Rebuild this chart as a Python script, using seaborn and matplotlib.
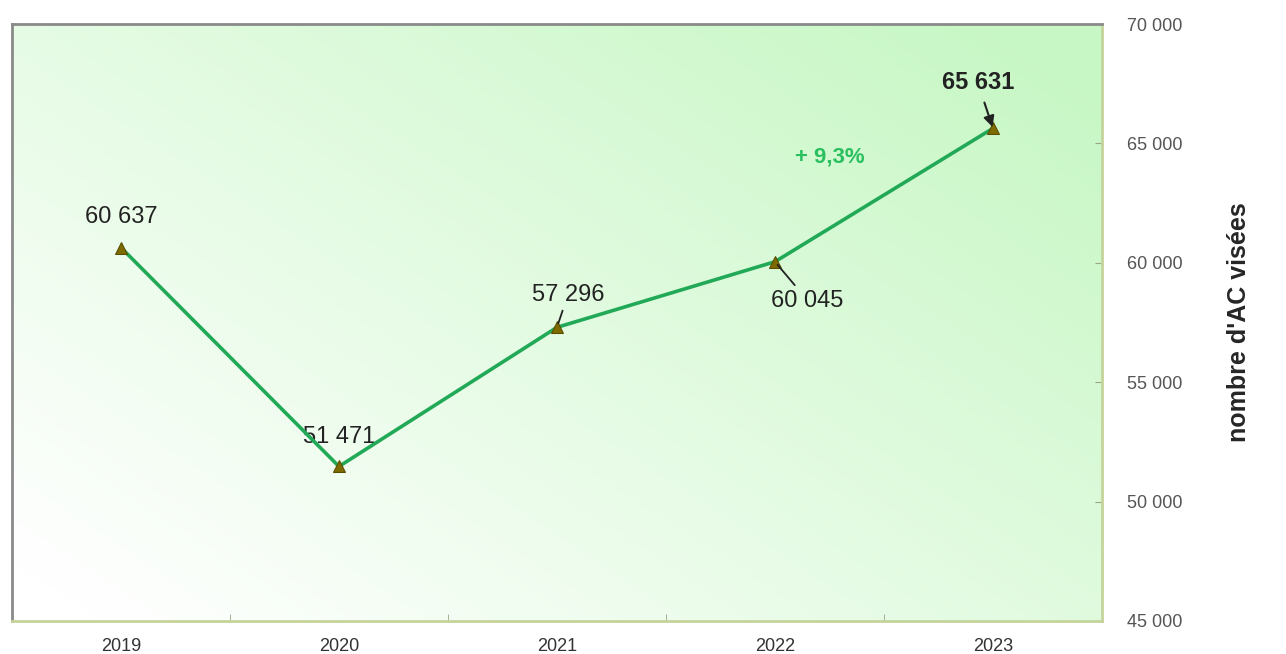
import numpy as np
import pandas as pd
import matplotlib.pyplot as plt
import seaborn as sns

# data
years = ["2019", "2020", "2021", "2022", "2023"]
counts = [60637, 51471, 57296, 60045, 65631]
count_labels = ["60 637", "51 471", "57 296", "60 045", "65 631"]
growth_label = "+ 9,3%"

df = pd.DataFrame({"annee": years, "nombre": counts})

sns.set_style("white")
plt.rcParams["font.family"] = ["Liberation Sans", "DejaVu Sans"]

fig = plt.figure(figsize=(12.86, 6.54), dpi=100)
ax = fig.add_axes([0.0093, 0.0505, 0.8476, 0.9128])

# light green gradient behind the plot (white bottom-left -> green top-right)
gx, gy = np.meshgrid(np.linspace(0, 1, 300), np.linspace(1, 0, 200))
t = np.clip(gx * 0.6 + gy * 0.5 - 0.05, 0, 1)
green = np.array([0.78, 0.97, 0.77])
img = (1 - t)[..., None] * np.array([1.0, 1.0, 1.0]) + t[..., None] * green
ax.imshow(img, extent=[0, 1, 0, 1], transform=ax.transAxes, aspect="auto", zorder=0)

sns.lineplot(data=df, x="annee", y="nombre", ax=ax, color="#22a957", linewidth=2.6,
             marker="^", markersize=8, markerfacecolor="#7d6b00", markeredgecolor="#5a4c00",
             zorder=3)

ax.set_xlim(-0.5, 4.5)
ax.set_ylim(45000, 70000)
ax.set_xlabel("")
ax.set_ylabel("nombre d'AC visées", fontsize=18, fontweight="bold", labelpad=32)

ax.yaxis.tick_right()
ax.yaxis.set_label_position("right")
ax.set_yticks(range(45000, 70001, 5000))
ax.set_yticklabels([f"{v:,}".replace(",", " ") for v in range(45000, 70001, 5000)])
ax.tick_params(axis="y", direction="in", length=5, color="#9aa680", pad=18,
               labelsize=13, labelcolor="#555555", right=True)
ax.tick_params(axis="x", length=0, pad=12, labelsize=13, labelcolor="#333333")
ax.set_xticks(np.arange(-0.5, 4.6, 1.0), minor=True)
ax.tick_params(axis="x", which="minor", direction="in", length=5, color="#9aa680", bottom=True)

for side in ["left", "top"]:
    ax.spines[side].set_color("#8a8a8a")
    ax.spines[side].set_linewidth(2)
for side in ["right", "bottom"]:
    ax.spines[side].set_color("#c5d49a")
    ax.spines[side].set_linewidth(2)

# value labels
ax.text(0, 61918, count_labels[0], ha="center", va="center", fontsize=17, color="#222222")
ax.text(1, 52706, count_labels[1], ha="center", va="center", fontsize=17, color="#222222", zorder=2)
ax.annotate(count_labels[2], xy=(2, counts[2]), xytext=(2.05, 58650), ha="center", va="center",
            fontsize=17, color="#222222",
            arrowprops=dict(arrowstyle="-", color="#222222", lw=1.3, shrinkA=1, shrinkB=3))
ax.annotate(count_labels[3], xy=(3, counts[3]), xytext=(3.15, 58420), ha="center", va="center",
            fontsize=17, color="#222222",
            arrowprops=dict(arrowstyle="-", color="#222222", lw=1.3, shrinkA=1, shrinkB=3))
ax.annotate(count_labels[4], xy=(4, counts[4]), xytext=(3.93, 67550), ha="center", va="center",
            fontsize=17, fontweight="bold", color="#222222",
            arrowprops=dict(arrowstyle="-|>", color="#222222", lw=1.5, shrinkA=4, shrinkB=1,
                            mutation_scale=16))
ax.text(3.25, 64430, growth_label, ha="center", va="center", fontsize=16,
        fontweight="bold", color="#2bbf60")

plt.savefig("out.png", dpi=100)
